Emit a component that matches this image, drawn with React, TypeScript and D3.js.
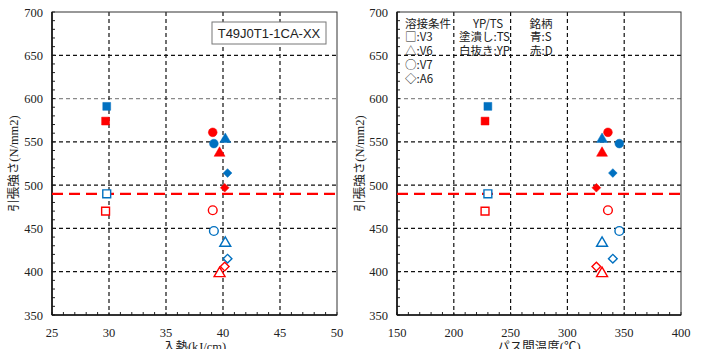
import React from "react";
import * as d3 from "d3";

// welding conditions, in legend order
const conditions = ["V3", "V6", "V7", "A6"];

// heat input (kJ/cm) per condition, brand S (blue) and brand D (red)
const heatInputS = [29.8, 40.2, 39.2, 40.4];
const heatInputD = [29.7, 39.7, 39.1, 40.15];

// interpass temperature (°C)
const passTempS = [230, 330.5, 345.7, 340];
const passTempD = [227.5, 330.5, 335.7, 325.5];

// tensile strength TS (filled) and yield point YP (open), N/mm2
const tsS = [591, 553, 548, 514];
const tsD = [574, 537, 561, 497];
const ypS = [490, 433, 447, 415];
const ypD = [470, 398, 471, 406];

// required tensile strength
const requiredTs = 490;

const yTicks = [350, 400, 450, 500, 550, 600, 650, 700];
const heatTicks = [25, 30, 35, 40, 45, 50];
const tempTicks = [150, 200, 250, 300, 350, 400];

const BLUE = "#0070C0";
const RED = "#FF0000";
const SERIF = "'Liberation Serif', 'Noto Sans CJK JP', serif";
const JP = "'Noto Sans CJK JP', sans-serif";

const symbolFor = (cond) => {
  if (cond === "V3") return d3.symbol(d3.symbolSquare, 62)();
  if (cond === "V6") return d3.symbol(d3.symbolTriangle, 52)();
  if (cond === "V7") return d3.symbol(d3.symbolCircle, 60)();
  return d3.symbol(d3.symbolSquare, 38)();
};

const Marker = ({ cx, cy, cond, color, filled }) => (
  <path
    d={symbolFor(cond)}
    transform={`translate(${cx},${cy})${cond === "A6" ? " rotate(45)" : ""}`}
    fill={filled ? color : "white"}
    stroke={color}
    strokeWidth={filled ? 0.5 : 1.4}
  />
);

const Panel = ({ left, right, top, bottom, xDomain, xTicks, minorStep, xS, xD, xTitle, yTitleX, children }) => {
  const x = d3.scaleLinear().domain(xDomain).range([left, right]);
  const y = d3.scaleLinear().domain([350, 700]).range([bottom, top]);
  const yMinor = d3.range(350, 701, 10);
  const xMinor = d3.range(xDomain[0], xDomain[1] + 0.001, minorStep);

  const points = [];
  conditions.forEach((c, i) => {
    points.push({ c, x: xS[i], y: tsS[i], color: BLUE, filled: true });
    points.push({ c, x: xD[i], y: tsD[i], color: RED, filled: true });
    points.push({ c, x: xS[i], y: ypS[i], color: BLUE, filled: false });
    points.push({ c, x: xD[i], y: ypD[i], color: RED, filled: false });
  });

  return (
    <g>
      <rect x={left} y={top} width={right - left} height={bottom - top} fill="white" />
      {/* horizontal grid */}
      {yTicks.slice(1, -1).map((t) => (
        <line key={"h" + t} x1={left} x2={right} y1={y(t)} y2={y(t)}
          stroke={t === 600 ? "#8a8a8a" : "#111"} strokeWidth={1.2} strokeDasharray="4,3" />
      ))}
      {/* vertical grid */}
      {xTicks.slice(1, -1).map((t) => (
        <line key={"v" + t} x1={x(t)} x2={x(t)} y1={top} y2={bottom}
          stroke="#111" strokeWidth={1.2} strokeDasharray="4,3" />
      ))}
      {children}
      {/* minor ticks */}
      {yMinor.map((t) => (
        <line key={"ym" + t} x1={left} x2={left + 3} y1={y(t)} y2={y(t)} stroke="#222" />
      ))}
      {xMinor.map((t) => (
        <line key={"xm" + t} x1={x(t)} x2={x(t)} y1={bottom} y2={bottom - 3} stroke="#222" />
      ))}
      {/* frame */}
      <rect x={left} y={top} width={right - left} height={bottom - top} fill="none" stroke="#333" strokeWidth={1} />
      <line x1={left} x2={left} y1={top} y2={bottom} stroke="#111" strokeWidth={1.6} />
      <line x1={left} x2={right} y1={bottom} y2={bottom} stroke="#111" strokeWidth={1.6} />
      {/* required strength */}
      <line x1={left} x2={right} y1={y(requiredTs)} y2={y(requiredTs)}
        stroke={RED} strokeWidth={2.2} strokeDasharray="11,6" />
      {points.map((p, i) => (
        <Marker key={i} cx={x(p.x)} cy={y(p.y)} cond={p.c} color={p.color} filled={p.filled} />
      ))}
      {/* tick labels */}
      {yTicks.map((t) => (
        <text key={"yl" + t} x={left - 9} y={y(t) + 4.5} textAnchor="end"
          fontFamily={SERIF} fontSize={12.5} fill="#222">{t}</text>
      ))}
      {xTicks.map((t) => (
        <text key={"xl" + t} x={x(t)} y={bottom + 22} textAnchor="middle"
          fontFamily={SERIF} fontSize={12.5} fill="#222">{t}</text>
      ))}
      <text x={(left + right) / 2} y={bottom + 36} textAnchor="middle"
        fontFamily={SERIF} fontSize={12.5} fill="#222">{xTitle}</text>
      <text transform={`translate(${yTitleX},${(top + bottom) / 2}) rotate(-90)`} textAnchor="middle"
        dominantBaseline="central" fontFamily={SERIF} fontSize={12.5} fill="#222">引張強さ(N/mm2)</text>
    </g>
  );
};

const legendRows = [
  ["溶接条件", "YP/TS", "銘柄"],
  ["□:V3", "塗潰し:TS", "青:S"],
  ["△:V6", "白抜き:YP", "赤:D"],
  ["○:V7", "", ""],
  ["◇:A6", "", ""],
];
const legendY = [27.5, 41, 55, 68.5, 83];

export default function App() {
  return (
    <svg width={704} height={349} style={{ position: "absolute", left: 0, top: 0, background: "white" }}>
      <Panel left={52} right={337} top={12} bottom={315} xDomain={[25, 50]} xTicks={heatTicks}
        minorStep={1} xS={heatInputS} xD={heatInputD} xTitle="入熱(kJ/cm)" yTitleX={14}>
        <rect x={212} y={22} width={114} height={22} fill="white" stroke="#777" strokeWidth={1} />
        <text x={269} y={38} textAnchor="middle" fontFamily="'Liberation Sans', sans-serif"
          fontSize={13} fill="#222">T49J0T1-1CA-XX</text>
      </Panel>
      <Panel left={397} right={681} top={12} bottom={315} xDomain={[150, 400]} xTicks={tempTicks}
        minorStep={10} xS={passTempS} xD={passTempD} xTitle="パス間温度(℃)" yTitleX={360}>
        <g fontFamily={JP} fontSize={11.5} fill="#222">
          {legendRows.map((row, i) => (
            <g key={i}>
              <text x={405} y={legendY[i]}>{row[0]}</text>
              {row[1] && (
                <text x={i === 0 ? 488 : 459} y={legendY[i]} textAnchor={i === 0 ? "middle" : "start"}>{row[1]}</text>
              )}
              {row[2] && (
                <text x={i === 0 ? 541 : 530} y={legendY[i]} textAnchor={i === 0 ? "middle" : "start"}>{row[2]}</text>
              )}
            </g>
          ))}
        </g>
      </Panel>
    </svg>
  );
}
